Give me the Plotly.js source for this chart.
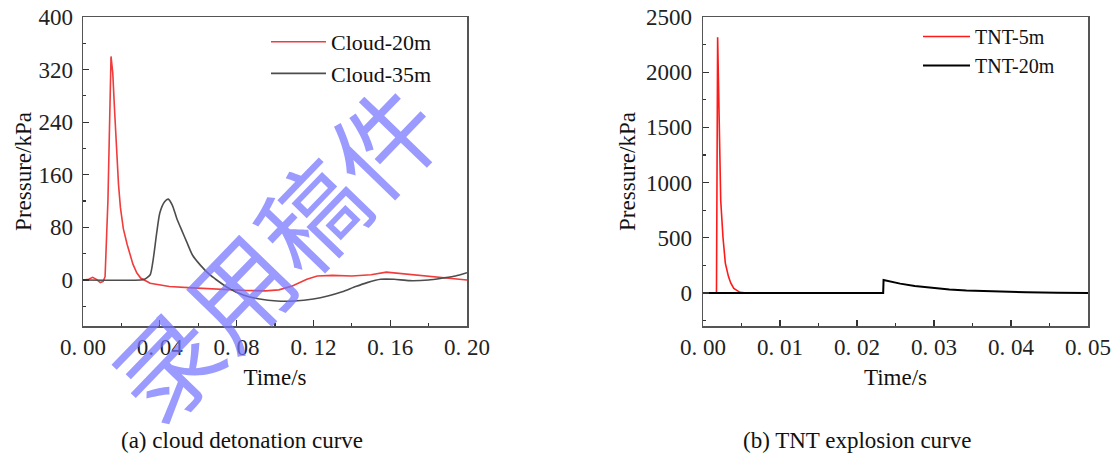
<!DOCTYPE html>
<html>
<head>
<meta charset="utf-8">
<script src="https://cdn.plot.ly/plotly-3.0.1.min.js"></script>
<style>html,body{margin:0;padding:0;background:#fff;}#chart{width:1118px;height:455px;}</style>
</head>
<body>
<div id="chart"></div>
<script>
// ---- data ----
const cloud20T = [0, 0.003, 0.005, 0.007, 0.009, 0.0105, 0.0115, 0.013, 0.0146, 0.0155, 0.0165, 0.0175, 0.0185, 0.0195, 0.021, 0.023, 0.0245, 0.026, 0.028, 0.030, 0.035, 0.045, 0.057, 0.070, 0.085, 0.095, 0.102, 0.109, 0.1166, 0.122, 0.130, 0.140, 0.150, 0.158, 0.165, 0.179, 0.190, 0.200];
const cloud20P = [0, 1, 4, 1, -4, -2, 5, 122, 340, 315, 255, 195, 145, 110, 78, 54, 37, 24, 11, 3, -5, -10, -12, -14, -16, -16.5, -15, -9, 1, 6, 7, 6, 8, 12, 10, 5, 3, 0];
const cloud35T = [0, 0.030, 0.032, 0.035, 0.0365, 0.0384, 0.040, 0.0425, 0.0444, 0.0465, 0.0488, 0.0515, 0.054, 0.057, 0.061, 0.066, 0.0696, 0.075, 0.0835, 0.092, 0.101, 0.110, 0.120, 0.128, 0.135, 0.142, 0.148, 0.155, 0.162, 0.170, 0.180, 0.1875, 0.194, 0.200];
const cloud35P = [0, 0, 1, 8, 30, 72, 102, 119, 123, 114, 94, 75, 58, 38, 23, 8, 0, -11, -23, -29, -32, -32, -29, -24, -18, -10, -4, 1, 1, -1, 0, 3, 6, 11];
const tnt5T = [0, 0.00175, 0.0019, 0.0020, 0.00212, 0.0022, 0.0023, 0.0026, 0.0029, 0.0033, 0.0036, 0.0040, 0.0048, 0.006, 0.010, 0.015, 0.020];
const tnt5P = [0, 0, 2317, 1900, 1500, 1050, 840, 500, 270, 150, 90, 40, 5, -3, -4, -3, -2];
const tnt20T = [0, 0.0234, 0.02345, 0.0245, 0.0256, 0.0275, 0.0299, 0.032, 0.0342, 0.0386, 0.042, 0.046, 0.050];
const tnt20P = [0, 0, 117, 100, 84, 62, 42, 30, 21, 10, 5, 2, 0];

const leftXTicks = [0, 0.04, 0.08, 0.12, 0.16, 0.20];
const leftXLabels = ['0. 00', '0. 04', '0. 08', '0. 12', '0. 16', '0. 20'];
const leftYTicks = [0, 80, 160, 240, 320, 400];
const rightXTicks = [0, 0.01, 0.02, 0.03, 0.04, 0.05];
const rightXLabels = ['0. 00', '0. 01', '0. 02', '0. 03', '0. 04', '0. 05'];
const rightYTicks = [0, 500, 1000, 1500, 2000, 2500];

const seriesNames = ['Cloud-20m', 'Cloud-35m', 'TNT-5m', 'TNT-20m'];
const captions = ['(a) cloud detonation curve', '(b) TNT explosion curve'];
const xTitle = 'Time/s';
const yTitle = 'Pressure/kPa';
const watermark = '录用稿件';

// ---- figure ----
const W = 1118, H = 455;
const FONT = 'Liberation Serif';
const px = v => v / W;
const py = v => 1 - v / H;

const traces = [
  {x: cloud20T, y: cloud20P, name: seriesNames[0], mode: 'lines', line: {color: '#f03c3c', width: 1.6}, xaxis: 'x', yaxis: 'y', legend: 'legend'},
  {x: cloud35T, y: cloud35P, name: seriesNames[1], mode: 'lines', line: {color: '#4d4d4d', width: 1.6, shape: 'spline', smoothing: 0.6}, xaxis: 'x', yaxis: 'y', legend: 'legend'},
  {x: tnt5T, y: tnt5P, name: seriesNames[2], mode: 'lines', line: {color: '#ff1a1a', width: 1.6}, xaxis: 'x2', yaxis: 'y2', legend: 'legend2'},
  {x: tnt20T, y: tnt20P, name: seriesNames[3], mode: 'lines', line: {color: '#000000', width: 2}, xaxis: 'x2', yaxis: 'y2', legend: 'legend2'}
];

const axBase = {
  showline: true, mirror: true, linecolor: '#555', linewidth: 1.5,
  showgrid: false, zeroline: false,
  ticks: 'inside', ticklen: 6, tickwidth: 1.3, tickcolor: '#333',
  tickfont: {family: FONT, size: 23, color: '#222'},
  automargin: false, fixedrange: true
};

const layout = {
  width: W, height: H,
  margin: {l: 0, r: 0, t: 0, b: 0},
  paper_bgcolor: '#fff', plot_bgcolor: 'rgba(0,0,0,0)',
  showlegend: true,
  xaxis: Object.assign({}, axBase, {
    domain: [px(83), px(467)], range: [0, 0.2], anchor: 'y',
    tickmode: 'array', tickvals: leftXTicks, ticktext: leftXLabels,
    minor: {ticks: 'inside', ticklen: 3, dtick: 0.02, tick0: 0, tickcolor: '#333', tickwidth: 1.2},
    ticklabelstandoff: 0,
    title: {text: xTitle, font: {family: FONT, size: 23, color: '#111'}, standoff: 10}
  }),
  yaxis: Object.assign({}, axBase, {
    domain: [py(326), py(17)], range: [-70, 400], anchor: 'x',
    tickmode: 'array', tickvals: leftYTicks,
    minor: {ticks: 'inside', ticklen: 3, dtick: 40, tick0: 0, tickcolor: '#333', tickwidth: 1.2},
    ticklabelstandoff: 4,
    title: {text: yTitle, font: {family: FONT, size: 23, color: '#111'}, standoff: 0}
  }),
  xaxis2: Object.assign({}, axBase, {
    domain: [px(703), px(1088)], range: [0, 0.05], anchor: 'y2',
    tickmode: 'array', tickvals: rightXTicks, ticktext: rightXLabels,
    minor: {ticks: 'inside', ticklen: 3, dtick: 0.005, tick0: 0, tickcolor: '#333', tickwidth: 1.2},
    ticklabelstandoff: 0,
    title: {text: xTitle, font: {family: FONT, size: 23, color: '#111'}, standoff: 10}
  }),
  yaxis2: Object.assign({}, axBase, {
    domain: [py(326), py(17)], range: [-300, 2500], anchor: 'x2',
    tickmode: 'array', tickvals: rightYTicks,
    minor: {ticks: 'inside', ticklen: 3, dtick: 250, tick0: 0, tickcolor: '#333', tickwidth: 1.2},
    ticklabelstandoff: 5,
    title: {text: yTitle, font: {family: FONT, size: 23, color: '#111'}, standoff: 4}
  }),
  legend: {
    x: px(266), y: py(21), xanchor: 'left', yanchor: 'top',
    bgcolor: 'rgba(0,0,0,0)', borderwidth: 0,
    font: {family: FONT, size: 22, color: '#111'},
    itemwidth: 55, tracegroupgap: 0
  },
  legend2: {
    x: px(918), y: py(17), xanchor: 'left', yanchor: 'top',
    bgcolor: 'rgba(0,0,0,0)', borderwidth: 0,
    font: {family: FONT, size: 20, color: '#111'},
    itemwidth: 47, tracegroupgap: 0
  },
  annotations: [
    {text: captions[0], x: px(242), y: py(440), xref: 'paper', yref: 'paper', xanchor: 'center', yanchor: 'middle', showarrow: false,
     font: {family: FONT, size: 23, color: '#111'}},
    {text: captions[1], x: px(857), y: py(440), xref: 'paper', yref: 'paper', xanchor: 'center', yanchor: 'middle', showarrow: false,
     font: {family: FONT, size: 23, color: '#111'}},
    {text: watermark, x: px(272), y: py(250), xref: 'paper', yref: 'paper', xanchor: 'center', yanchor: 'middle', showarrow: false,
     textangle: -46, font: {family: 'Noto Sans CJK SC', size: 104, color: 'rgba(115,115,255,0.72)'}}
  ]
};

Plotly.newPlot('chart', traces, layout, {displayModeBar: false, staticPlot: true});
</script>
</body>
</html>
